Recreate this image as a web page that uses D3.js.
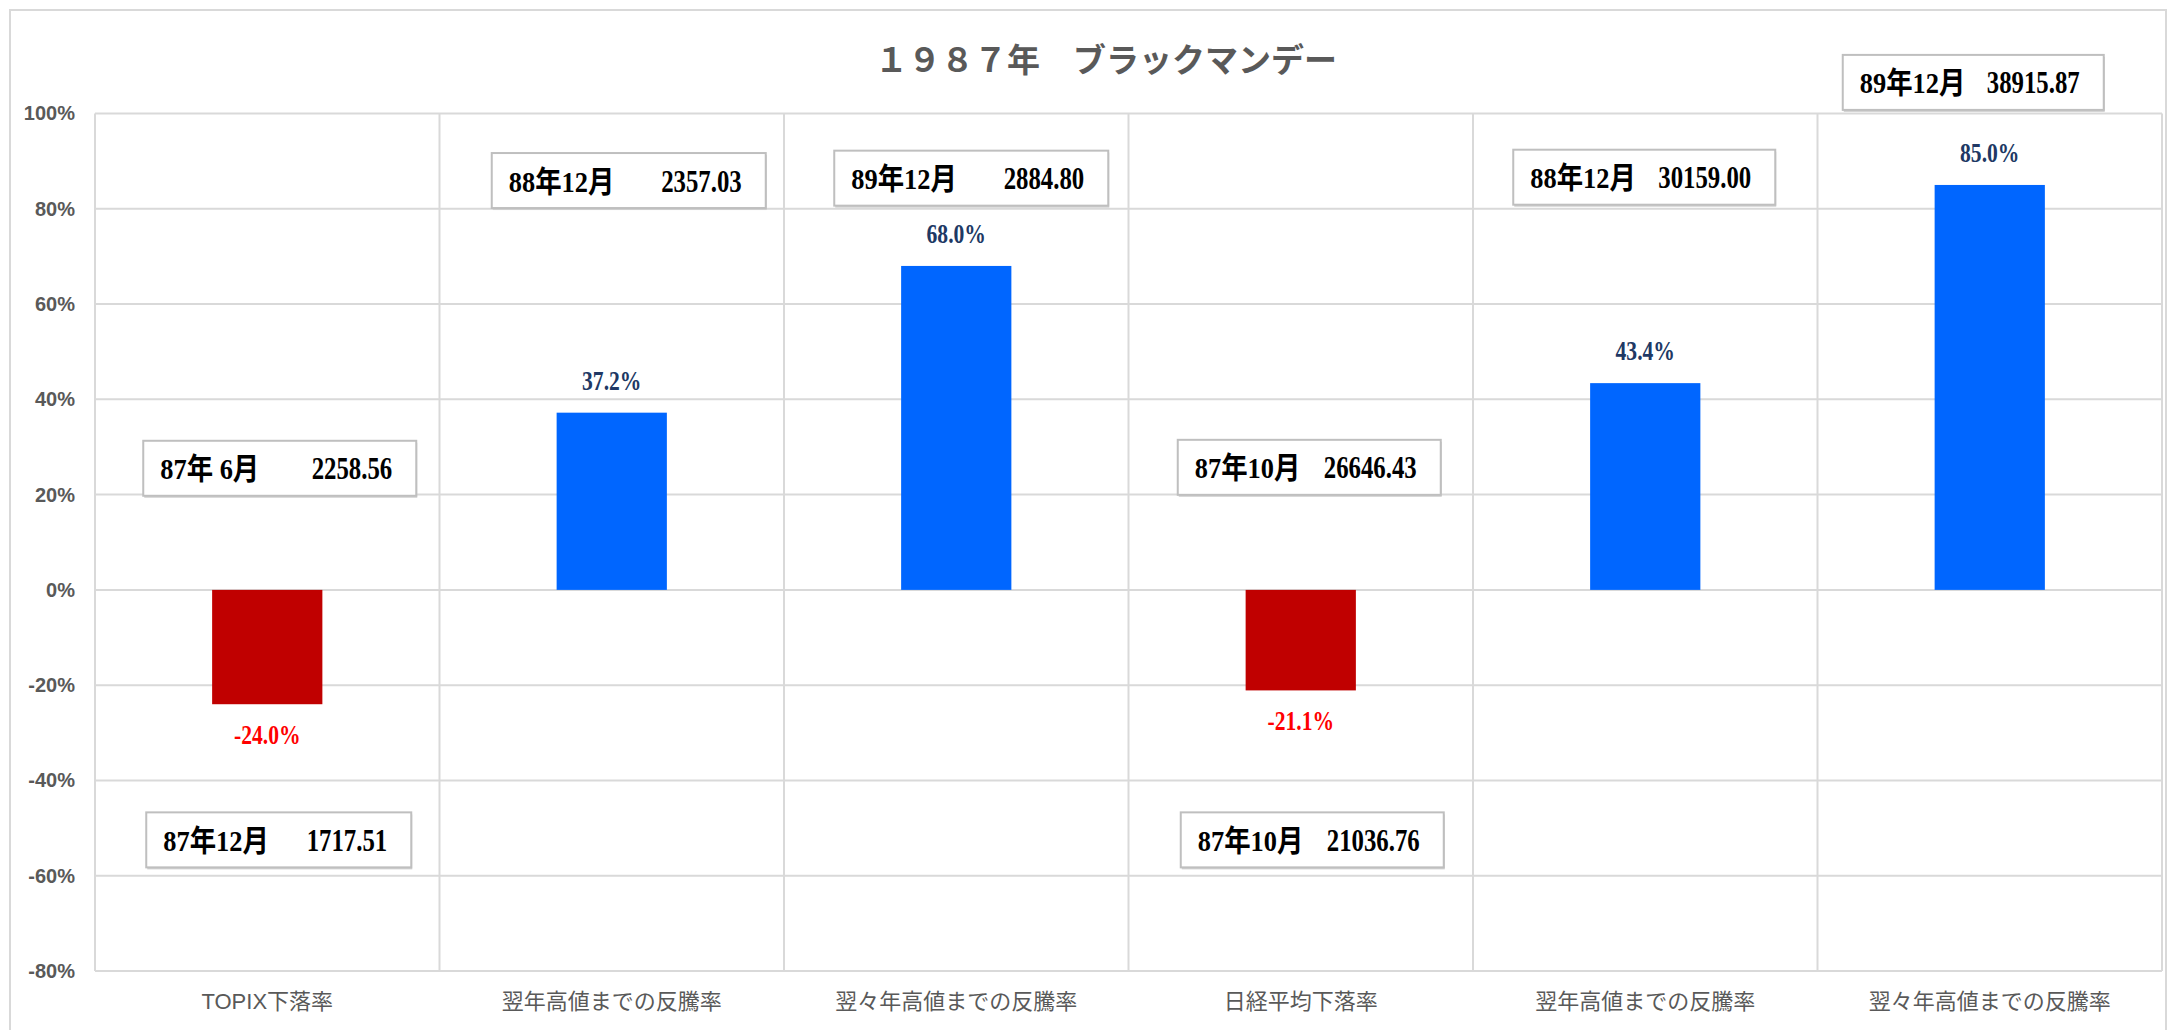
<!DOCTYPE html>
<html>
<head>
<meta charset="utf-8">
<script src="https://cdn.jsdelivr.net/npm/d3@7"></script>
<style>
  html, body { margin: 0; padding: 0; background: #fff; }
  svg text { white-space: pre; }
</style>
</head>
<body>
<div id="chart"></div>
<script>
// chart data
var title = "１９８７年　ブラックマンデー";
var categories = ["TOPIX下落率", "翌年高値までの反騰率", "翌々年高値までの反騰率",
                  "日経平均下落率", "翌年高値までの反騰率", "翌々年高値までの反騰率"];
var values = [-24.0, 37.2, 68.0, -21.1, 43.4, 85.0];
var yTicks = [-80, -60, -40, -20, 0, 20, 40, 60, 80, 100];

// text boxes: category index, top of box (in % units), month, index level
var noteCat = [0, 0, 1, 2, 3, 3, 4, 5];
var noteTop = [31.3, -46.7, 91.7, 92.2, 31.5, -46.7, 92.4, 112.3];
var noteDate = ["87年 6月", "87年12月", "88年12月", "89年12月", "87年10月", "87年10月", "88年12月", "89年12月"];
var noteLevel = ["2258.56", "1717.51", "2357.03", "2884.80", "26646.43", "21036.76", "30159.00", "38915.87"];

var width = 2173, height = 1030;
var plot = {left: 95, right: 2162, top: 113.5, bottom: 971};
// box placement relative to band centre, and box widths (px)
var boxShift = [-124, -121, -120, -122, -123, -120, -132, -147];
var boxW = [273, 265, 274, 274, 263, 263, 262, 261];

var serif = "'Liberation Serif', 'Noto Sans CJK JP', serif";
var sans = "'Liberation Sans Narrow', 'Liberation Sans', 'Noto Sans CJK JP', sans-serif";
var squeeze = 0.8;

var svg = d3.select("#chart").append("svg")
    .attr("width", width)
    .attr("height", height);

svg.append("rect")
    .attr("x", 10).attr("y", 10)
    .attr("width", 2156).attr("height", 1030)
    .attr("fill", "#fff")
    .attr("stroke", "#d9d9d9")
    .attr("stroke-width", 2);

var x = d3.scaleBand()
    .domain(d3.range(categories.length))
    .range([plot.left, plot.right])
    .paddingInner(0).paddingOuter(0);

var y = d3.scaleLinear()
    .domain([-80, 100])
    .range([plot.bottom, plot.top]);

// grid
var grid = svg.append("g").attr("class", "grid");
grid.selectAll(".hline")
    .data(yTicks)
    .enter().append("line")
    .attr("x1", plot.left).attr("x2", plot.right)
    .attr("y1", function (d) { return y(d); })
    .attr("y2", function (d) { return y(d); })
    .attr("stroke", "#d9d9d9").attr("stroke-width", 2);

grid.selectAll(".vline")
    .data(d3.range(categories.length + 1))
    .enter().append("line")
    .attr("x1", function (i) { return plot.left + i * x.bandwidth(); })
    .attr("x2", function (i) { return plot.left + i * x.bandwidth(); })
    .attr("y1", plot.top).attr("y2", plot.bottom)
    .attr("stroke", "#d9d9d9").attr("stroke-width", 2);

// y axis
var yAxis = svg.append("g")
    .attr("transform", "translate(" + plot.left + ",0)")
    .call(d3.axisLeft(y).tickValues(yTicks).tickSize(0).tickPadding(20)
        .tickFormat(function (d) { return d + "%"; }));
yAxis.select(".domain").remove();
yAxis.selectAll("text")
    .attr("font-family", sans)
    .attr("font-weight", "bold")
    .attr("font-size", 20)
    .attr("fill", "#595959");

// x axis
var xAxis = svg.append("g")
    .attr("transform", "translate(0," + plot.bottom + ")")
    .call(d3.axisBottom(x).tickSize(0).tickPadding(22)
        .tickFormat(function (i) { return categories[i]; }));
xAxis.select(".domain").remove();
xAxis.selectAll("text")
    .attr("font-family", sans)
    .attr("font-size", 22)
    .attr("fill", "#595959");

// bars
var barW = x.bandwidth() * 0.32;
svg.selectAll(".bar")
    .data(values)
    .enter().append("rect")
    .attr("class", "bar")
    .attr("x", function (d, i) { return x(i) + (x.bandwidth() - barW) / 2; })
    .attr("y", function (d) { return y(Math.max(0, d)); })
    .attr("width", barW)
    .attr("height", function (d) { return Math.abs(y(d) - y(0)); })
    .attr("fill", function (d) { return d < 0 ? "#c00000" : "#0066ff"; });

// value labels
svg.selectAll(".vlabel")
    .data(values)
    .enter().append("text")
    .attr("class", "vlabel")
    .attr("transform", function (d, i) {
        var cx = x(i) + x.bandwidth() / 2;
        var cy = d < 0 ? y(d) + 40 : y(d) - 23;
        return "translate(" + cx + "," + cy + ") scale(" + squeeze + ",1)";
    })
    .attr("text-anchor", "middle")
    .attr("font-family", serif)
    .attr("font-weight", "bold")
    .attr("font-size", 27)
    .attr("fill", function (d) { return d < 0 ? "#ff0000" : "#203864"; })
    .text(function (d) { return d.toFixed(1) + "%"; });

// note boxes
var boxH = 55;
noteDate.forEach(function (t, k) {
    var left = x(noteCat[k]) + x.bandwidth() / 2 + boxShift[k];
    var top = y(noteTop[k]);
    var w = boxW[k];
    var base = top + boxH / 2 + 11;
    var g = svg.append("g").attr("class", "note");
    g.append("rect")
        .attr("x", left + 1).attr("y", top + 2)
        .attr("width", w).attr("height", boxH)
        .attr("fill", "#d0d0d0");
    g.append("rect")
        .attr("x", left).attr("y", top)
        .attr("width", w).attr("height", boxH)
        .attr("fill", "#fff")
        .attr("stroke", "#bfbfbf")
        .attr("stroke-width", 2);
    g.append("text")
        .attr("transform", "translate(" + (left + 17) + "," + base + ") scale(0.88,1)")
        .attr("font-family", serif)
        .attr("font-weight", "bold")
        .attr("font-size", 30)
        .attr("fill", "#000")
        .text(t);
    g.append("text")
        .attr("transform", "translate(" + (left + w - 24) + "," + base + ") scale(" + squeeze + ",1)")
        .attr("text-anchor", "end")
        .attr("font-family", serif)
        .attr("font-weight", "bold")
        .attr("font-size", 31)
        .attr("fill", "#000")
        .text(noteLevel[k]);
});

// title
svg.append("text")
    .attr("x", 1106)
    .attr("y", 72)
    .attr("text-anchor", "middle")
    .attr("font-family", serif)
    .attr("font-weight", "bold")
    .attr("font-size", 33)
    .attr("fill", "#595959")
    .text(title);
</script>
</body>
</html>
